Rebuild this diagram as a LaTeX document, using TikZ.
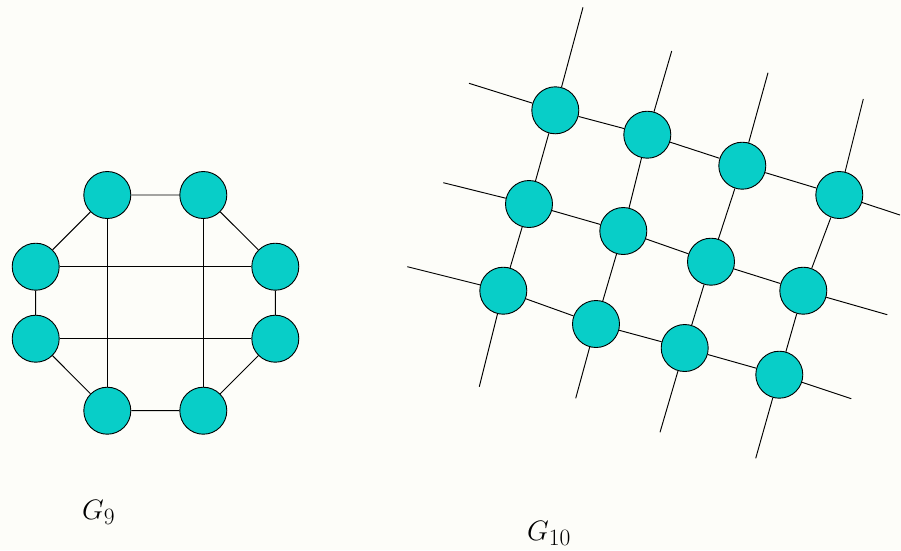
\documentclass[tikz,border=0pt]{standalone}
\usepackage{graphicx}
\definecolor{vfill}{RGB}{8,206,200}
\definecolor{paper}{RGB}{253,253,249}
\newcommand{\graphname}[1]{\scalebox{1.13}{$#1$}}
\begin{document}
\begin{tikzpicture}[x=1pt,y=-1pt,
  vtx/.style={circle,draw=black,fill=vfill,line width=0.9pt,minimum size=47pt,inner sep=0pt},
  edge/.style={line width=0.95pt},
  glabel/.style={anchor=base west,inner sep=0pt,font=\fontsize{24.88}{30}\selectfont}]
\fill[paper] (0,0) rectangle (901,550);
\useasboundingbox (0,0) rectangle (901,550);

% ---- G9: octagon with two horizontal and two vertical chords ----
\node[vtx] (a1) at (107.3,195) {};
\node[vtx] (a2) at (203.3,195) {};
\node[vtx] (a3) at (275.3,266.7) {};
\node[vtx] (a4) at (275.3,338.7) {};
\node[vtx] (a5) at (203.3,410.7) {};
\node[vtx] (a6) at (107.3,410.7) {};
\node[vtx] (a7) at (35.7,338.7) {};
\node[vtx] (a8) at (35.7,266.7) {};
\draw[edge] (a1) -- (a2) (a2) -- (a3) (a3) -- (a4) (a4) -- (a5)
            (a5) -- (a6) (a6) -- (a7) (a7) -- (a8) (a8) -- (a1);
\draw[edge] (a1) -- (a6) (a2) -- (a5) (a8) -- (a3) (a7) -- (a4);
\node[glabel] (g9) at (82,519) {\graphname{G_9}};

% ---- G10: tilted 3x4 grid with open ends ----
\node[vtx] (b11) at (555.3,110.3) {};
\node[vtx] (b12) at (647.3,134.7) {};
\node[vtx] (b13) at (742.3,165.7) {};
\node[vtx] (b14) at (839.3,195) {};
\node[vtx] (b21) at (529,204) {};
\node[vtx] (b22) at (623.3,231) {};
\node[vtx] (b23) at (711,261.7) {};
\node[vtx] (b24) at (803.3,290.7) {};
\node[vtx] (b31) at (503.3,290.7) {};
\node[vtx] (b32) at (596,324) {};
\node[vtx] (b33) at (684.7,348) {};
\node[vtx] (b34) at (779.3,374.7) {};

% free ends of the rows
\coordinate (r1w) at (469,83.3);   \coordinate (r1e) at (900,215);
\coordinate (r2w) at (443.3,182.7); \coordinate (r2e) at (887.3,314.7);
\coordinate (r3w) at (407.3,266.7); \coordinate (r3e) at (851.3,398.7);
% free ends of the columns
\coordinate (c1n) at (583,7.3);     \coordinate (c1s) at (479.3,386.7);
\coordinate (c2n) at (671.7,51);    \coordinate (c2s) at (575.7,398.3);
\coordinate (c3n) at (768,72.7);    \coordinate (c3s) at (660,432.3);
\coordinate (c4n) at (863.3,99);    \coordinate (c4s) at (755.7,458.3);

\draw[edge] (r1w) -- (b11) -- (b12) -- (b13) -- (b14) -- (r1e);
\draw[edge] (r2w) -- (b21) -- (b22) -- (b23) -- (b24) -- (r2e);
\draw[edge] (r3w) -- (b31) -- (b32) -- (b33) -- (b34) -- (r3e);
\draw[edge] (c1n) -- (b11) -- (b21) -- (b31) -- (c1s);
\draw[edge] (c2n) -- (b12) -- (b22) -- (b32) -- (c2s);
\draw[edge] (c3n) -- (b13) -- (b23) -- (b33) -- (c3s);
\draw[edge] (c4n) -- (b14) -- (b24) -- (b34) -- (c4s);
\node[glabel] (g10) at (527,540) {\graphname{G_{10}}};
\end{tikzpicture}
\end{document}
